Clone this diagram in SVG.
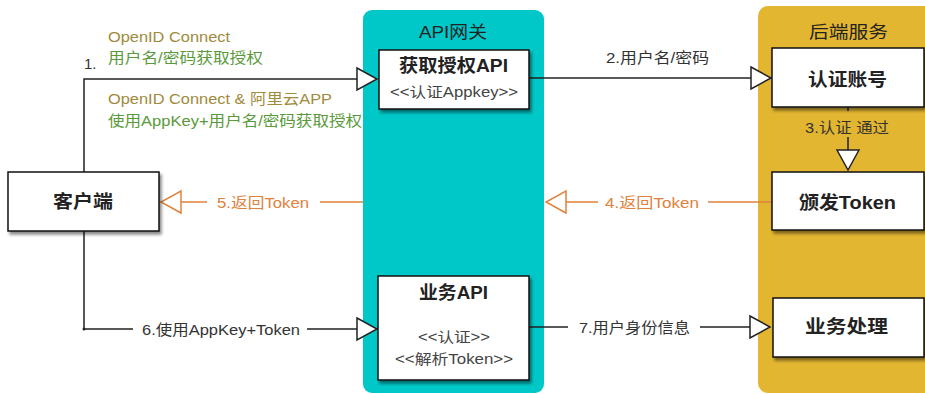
<svg xmlns="http://www.w3.org/2000/svg" width="925" height="394" viewBox="0 0 925 394">
<defs>
<style>
text{font-family:"Liberation Sans","Noto Sans CJK SC",sans-serif;dominant-baseline:central;lengthAdjust:spacingAndGlyphs}
.lbl{font-size:15px;fill:#333}
.olive{font-size:15px;fill:#A08A3C}
.green{font-size:15px;fill:#5A9A3A}
.orange{font-size:15px;fill:#E0823D}
.title{font-size:17px;fill:#222}
.bold{font-size:18px;font-weight:bold;fill:#222}
.ster{font-size:14px;fill:#444}
.box{fill:#fff;stroke:#111;stroke-width:1.5;filter:url(#sh)}
.ln{fill:none;stroke:#222;stroke-width:1.5}
.lno{fill:none;stroke:#E0823D;stroke-width:1.5}
</style>
<filter id="sh" x="-10%" y="-10%" width="130%" height="140%">
<feDropShadow dx="2" dy="3" stdDeviation="1.5" flood-color="#000" flood-opacity="0.45"/>
</filter>
<marker id="ah" viewBox="0 0 24 26" refX="22" refY="13" markerWidth="24" markerHeight="26" markerUnits="userSpaceOnUse" orient="auto">
<path d="M2,2 L22,13 L2,24 Z" fill="#fff" stroke="#222" stroke-width="1.5"/>
</marker>
<marker id="aho" viewBox="0 0 24 26" refX="22" refY="13" markerWidth="24" markerHeight="26" markerUnits="userSpaceOnUse" orient="auto">
<path d="M2,2 L22,13 L2,24 Z" fill="#fff" stroke="#E0823D" stroke-width="1.5"/>
</marker>
</defs>
<rect width="925" height="394" fill="#fff"/>

<g id="gateway">
<rect x="363" y="10" width="181" height="383" rx="9" fill="#00C8C8"/>
<text class="title" x="419" y="32" textLength="68" lengthAdjust="spacingAndGlyphs">API网关</text>
</g>
<g id="backend">
<rect x="758" y="6" width="190" height="387" rx="10" fill="#E3B631"/>
<text class="title" x="809" y="32" textLength="79" lengthAdjust="spacingAndGlyphs">后端服务</text>
</g>

<g id="connectors">
<path class="ln" d="M84,172 V79 H377" marker-end="url(#ah)"/>
<path class="ln" d="M84,231 V329 H133 M307,329 H377" marker-end="url(#ah)"/>
<circle cx="84" cy="329" r="1.5" fill="#222"/>
<path class="ln" d="M529,78 H771" marker-end="url(#ah)"/>
<path class="ln" d="M848,107 V111 M848,137 V170" marker-end="url(#ah)"/>
<path class="lno" d="M773,202 H708 M598,202 H546" marker-end="url(#aho)"/>
<path class="lno" d="M363,202 H320 M207,202 H161" marker-end="url(#aho)"/>
<path class="ln" d="M529,327 H568 M700,327 H770" marker-end="url(#ah)"/>
<text class="lbl" x="84" y="63">1.</text>
<text class="olive" x="108" y="36" textLength="122" lengthAdjust="spacingAndGlyphs">OpenID Connect</text>
<text class="green" x="108" y="57" textLength="155" lengthAdjust="spacingAndGlyphs">用户名/密码获取授权</text>
<text class="olive" x="108" y="98" textLength="224" lengthAdjust="spacingAndGlyphs">OpenID Connect &amp; 阿里云APP</text>
<text class="green" x="108" y="120" textLength="254" lengthAdjust="spacingAndGlyphs">使用AppKey+用户名/密码获取授权</text>
<text class="lbl" x="606" y="57" textLength="103" lengthAdjust="spacingAndGlyphs">2.用户名/密码</text>
<text class="lbl" x="805" y="127" textLength="84" lengthAdjust="spacingAndGlyphs">3.认证 通过</text>
<text class="orange" x="605" y="202" textLength="94" lengthAdjust="spacingAndGlyphs">4.返回Token</text>
<text class="orange" x="217" y="202" textLength="92" lengthAdjust="spacingAndGlyphs">5.返回Token</text>
<text class="lbl" x="142" y="329" textLength="158" lengthAdjust="spacingAndGlyphs">6.使用AppKey+Token</text>
<text class="lbl" x="579" y="327" textLength="111" lengthAdjust="spacingAndGlyphs">7.用户身份信息</text>
</g>

<g id="client">
<rect class="box" x="8" y="172" width="151" height="59"/>
<text class="bold" x="53" y="202" textLength="60" lengthAdjust="spacingAndGlyphs">客户端</text>
</g>
<g id="authApi">
<rect class="box" x="379" y="50" width="150" height="59"/>
<text class="bold" x="399" y="66" textLength="109" lengthAdjust="spacingAndGlyphs">获取授权API</text>
<text class="ster" x="390" y="92" textLength="128" lengthAdjust="spacingAndGlyphs">&lt;&lt;认证Appkey&gt;&gt;</text>
</g>
<g id="bizApi">
<rect class="box" x="378" y="276" width="151" height="104"/>
<text class="bold" x="419" y="293" textLength="69" lengthAdjust="spacingAndGlyphs">业务API</text>
<text class="ster" x="418" y="337" textLength="72" lengthAdjust="spacingAndGlyphs">&lt;&lt;认证&gt;&gt;</text>
<text class="ster" x="395" y="359" textLength="118" lengthAdjust="spacingAndGlyphs">&lt;&lt;解析Token&gt;&gt;</text>
</g>
<g id="verifyAccount">
<rect class="box" x="772" y="48" width="152" height="59"/>
<text class="bold" x="808" y="80" textLength="79" lengthAdjust="spacingAndGlyphs">认证账号</text>
</g>
<g id="issueToken">
<rect class="box" x="772" y="172" width="152" height="58"/>
<text class="bold" x="799" y="203" textLength="97" lengthAdjust="spacingAndGlyphs">颁发Token</text>
</g>
<g id="bizProcess">
<rect class="box" x="773" y="298" width="151" height="59"/>
<text class="bold" x="805" y="327" textLength="83" lengthAdjust="spacingAndGlyphs">业务处理</text>
</g>
</svg>
